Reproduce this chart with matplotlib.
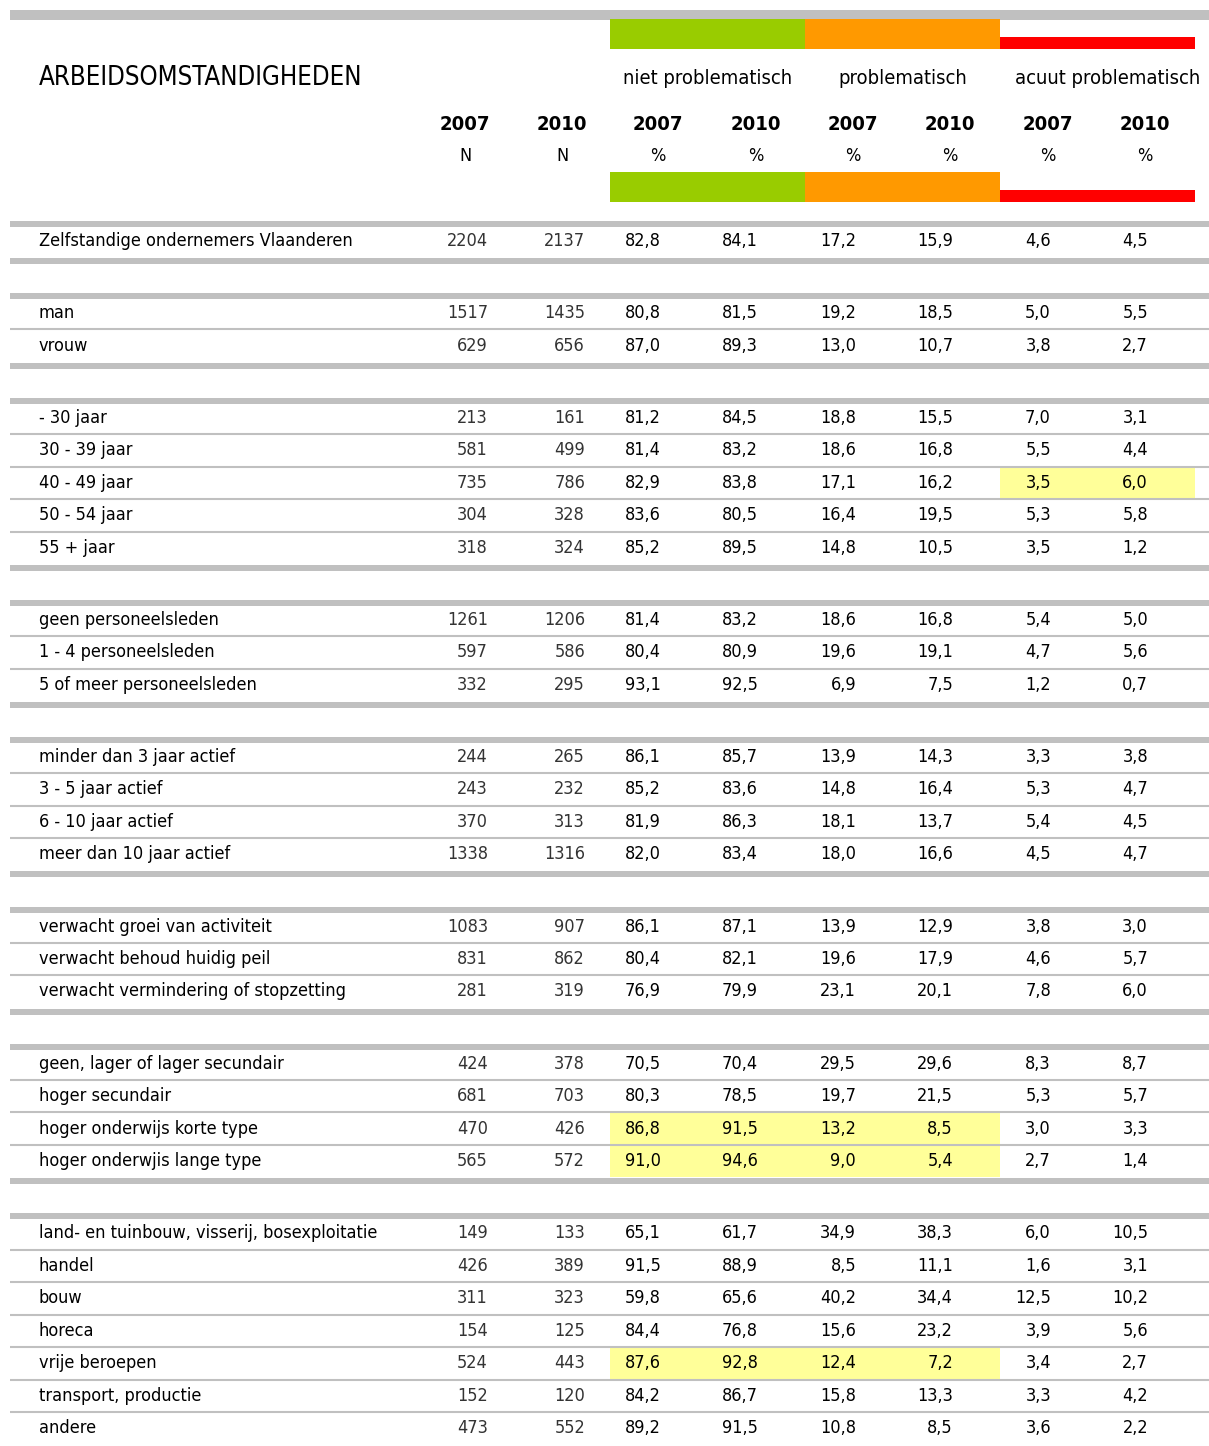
import matplotlib
matplotlib.use('Agg')
import matplotlib.pyplot as plt
from matplotlib.patches import Rectangle

plt.rcParams['font.family'] = ['DejaVu Sans']
plt.rcParams['font.stretch'] = 'condensed'

# data
title = 'ARBEIDSOMSTANDIGHEDEN'
groups = ['niet problematisch', 'problematisch', 'acuut problematisch']
years = ['2007', '2010']

group_sizes = [1, 2, 5, 3, 4, 3, 4, 7]
labels = ['Zelfstandige ondernemers Vlaanderen',
          'man', 'vrouw',
          '- 30 jaar', '30 - 39 jaar', '40 - 49 jaar', '50 - 54 jaar', '55 + jaar',
          'geen personeelsleden', '1 - 4 personeelsleden', '5 of meer personeelsleden',
          'minder dan 3 jaar actief', '3 - 5 jaar actief', '6 - 10 jaar actief', 'meer dan 10 jaar actief',
          'verwacht groei van activiteit', 'verwacht behoud huidig peil', 'verwacht vermindering of stopzetting',
          'geen, lager of lager secundair', 'hoger secundair', 'hoger onderwijs korte type', 'hoger onderwjis lange type',
          'land- en tuinbouw, visserij, bosexploitatie', 'handel', 'bouw', 'horeca', 'vrije beroepen',
          'transport, productie', 'andere']

n_2007 = [2204, 1517, 629, 213, 581, 735, 304, 318, 1261, 597, 332, 244, 243, 370, 1338,
          1083, 831, 281, 424, 681, 470, 565, 149, 426, 311, 154, 524, 152, 473]
n_2010 = [2137, 1435, 656, 161, 499, 786, 328, 324, 1206, 586, 295, 265, 232, 313, 1316,
          907, 862, 319, 378, 703, 426, 572, 133, 389, 323, 125, 443, 120, 552]
niet_2007 = [82.8, 80.8, 87.0, 81.2, 81.4, 82.9, 83.6, 85.2, 81.4, 80.4, 93.1, 86.1, 85.2, 81.9, 82.0,
             86.1, 80.4, 76.9, 70.5, 80.3, 86.8, 91.0, 65.1, 91.5, 59.8, 84.4, 87.6, 84.2, 89.2]
niet_2010 = [84.1, 81.5, 89.3, 84.5, 83.2, 83.8, 80.5, 89.5, 83.2, 80.9, 92.5, 85.7, 83.6, 86.3, 83.4,
             87.1, 82.1, 79.9, 70.4, 78.5, 91.5, 94.6, 61.7, 88.9, 65.6, 76.8, 92.8, 86.7, 91.5]
prob_2007 = [17.2, 19.2, 13.0, 18.8, 18.6, 17.1, 16.4, 14.8, 18.6, 19.6, 6.9, 13.9, 14.8, 18.1, 18.0,
             13.9, 19.6, 23.1, 29.5, 19.7, 13.2, 9.0, 34.9, 8.5, 40.2, 15.6, 12.4, 15.8, 10.8]
prob_2010 = [15.9, 18.5, 10.7, 15.5, 16.8, 16.2, 19.5, 10.5, 16.8, 19.1, 7.5, 14.3, 16.4, 13.7, 16.6,
             12.9, 17.9, 20.1, 29.6, 21.5, 8.5, 5.4, 38.3, 11.1, 34.4, 23.2, 7.2, 13.3, 8.5]
acuut_2007 = [4.6, 5.0, 3.8, 7.0, 5.5, 3.5, 5.3, 3.5, 5.4, 4.7, 1.2, 3.3, 5.3, 5.4, 4.5,
              3.8, 4.6, 7.8, 8.3, 5.3, 3.0, 2.7, 6.0, 1.6, 12.5, 3.9, 3.4, 3.3, 3.6]
acuut_2010 = [4.5, 5.5, 2.7, 3.1, 4.4, 6.0, 5.8, 1.2, 5.0, 5.6, 0.7, 3.8, 4.7, 4.5, 4.7,
              3.0, 5.7, 6.0, 8.7, 5.7, 3.3, 1.4, 10.5, 3.1, 10.2, 5.6, 2.7, 4.2, 2.2]

# highlighted cells: row label -> percentage column indices
highlights = {'40 - 49 jaar': [4, 5],
              'hoger onderwijs korte type': [0, 1, 2, 3],
              'hoger onderwjis lange type': [0, 1, 2, 3],
              'vrije beroepen': [0, 1, 2, 3]}

pct_cols = [niet_2007, niet_2010, prob_2007, prob_2010, acuut_2007, acuut_2010]

# layout (pixels)
W, H = 1209, 1446
gray = '#c0c0c0'
colors = ['#99cc00', '#ff9900', '#ff0000']
col_left = 610
col_w = 97.5
n_right = [488, 585]
pct_right = [661, 758, 856, 953, 1051, 1148]
head_x = [465, 562, 658, 756, 853, 950, 1048, 1145]
y0, pitch, gap = 241, 32.5, 39.6
fs = 13

fig = plt.figure(figsize=(W / 100, H / 100), dpi=100)
ax = fig.add_axes([0, 0, 1, 1])
ax.set_xlim(0, W)
ax.set_ylim(H, 0)
ax.axis('off')

# header
ax.add_patch(Rectangle((10, 10), W - 10, 10, color=gray, lw=0))
for i, c in enumerate(colors):
    x = col_left + i * 2 * col_w
    top = 19 if i < 2 else 37
    ax.add_patch(Rectangle((x, top), 2 * col_w, 49 - top, color=c, lw=0))
    top2 = 172 if i < 2 else 190
    ax.add_patch(Rectangle((x, top2), 2 * col_w, 202 - top2, color=c, lw=0))
    ax.text(x + col_w + (10 if i == 2 else 0), 78, groups[i], ha='center', va='center', fontsize=14.5)

ax.text(39, 78, title, ha='left', va='center', fontsize=18.5)
for j, hx in enumerate(head_x):
    ax.text(hx, 125, years[j % 2], ha='center', va='center', fontsize=14.5, fontweight='bold')
    ax.text(hx, 156, 'N' if j < 2 else '%', ha='center', va='center', fontsize=13)

# rows
fmt = lambda v: ('%.1f' % v).replace('.', ',')
k = 0
for g, size in enumerate(group_sizes):
    first_y = y0 + pitch * k + gap * g
    ax.hlines(first_y - 17, 10, W, color=gray, lw=4.3)
    for r in range(size):
        y = y0 + pitch * k + gap * g
        lab = labels[k]
        for c in highlights.get(lab, []):
            ax.add_patch(Rectangle((col_left + c * col_w, y - 16), col_w, 32,
                                   color='#ffff99', lw=0, zorder=0))
        ax.text(39, y, lab, ha='left', va='center', fontsize=fs)
        ax.text(n_right[0], y, str(n_2007[k]), ha='right', va='center', fontsize=fs, color='#333333')
        ax.text(n_right[1], y, str(n_2010[k]), ha='right', va='center', fontsize=fs, color='#333333')
        for c, vals in enumerate(pct_cols):
            ax.text(pct_right[c], y, fmt(vals[k]), ha='right', va='center', fontsize=fs)
        if r < size - 1:
            ax.hlines(y + 16.3, 10, W, color=gray, lw=1.5)
        else:
            ax.hlines(y + 20, 10, W, color=gray, lw=4.3 if g < len(group_sizes) - 1 else 1.5)
        k += 1

fig.savefig('out.png', dpi=100)
